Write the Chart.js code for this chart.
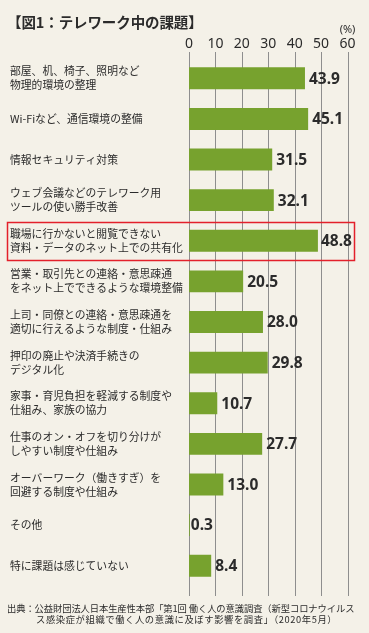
<!DOCTYPE html>
<html>
<head>
<meta charset="utf-8">
<script src="https://cdn.jsdelivr.net/npm/chart.js@4"></script>
<style>
  html, body { margin: 0; padding: 0; background: #f4f1e8; }
  #wrap { position: relative; width: 369px; height: 633px; }
  #chart { position: absolute; left: 0; top: 0; }
  .title {
    position: absolute; left: 7px; top: 11px;
    font: bold 14.5px "Noto Sans CJK JP", sans-serif; color: #2b2b2b; letter-spacing: -0.1px;
  }
  .source {
    position: absolute; left: 7px; top: 603px; width: 362px;
    font: 9.3px/11px "Noto Sans CJK JP", sans-serif; color: #2b2b2b;
    letter-spacing: -0.1px; white-space: nowrap;
  }
  .source span { padding-left: 29px; letter-spacing: 0.6px; }
</style>
</head>
<body>
<div id="wrap">
  <canvas id="chart" width="369" height="633"></canvas>
  <div class="title">【図1：テレワーク中の課題】</div>
  <div class="source">出典：公益財団法人日本生産性本部「第1回 働く人の意識調査（新型コロナウイルス<br><span>ス感染症が組織で働く人の意識に及ぼす影響を調査」（2020年5月）</span></div>
</div>
<script>
// categories (split into lines as printed)
let categories = [
    ['部屋、机、椅子、照明など', '物理的環境の整理'],
    'Wi-Fiなど、通信環境の整備',
    '情報セキュリティ対策',
    ['ウェブ会議などのテレワーク用', 'ツールの使い勝手改善'],
    ['職場に行かないと閲覧できない', '資料・データのネット上での共有化'],
    ['営業・取引先との連絡・意思疎通', 'をネット上でできるような環境整備'],
    ['上司・同僚との連絡・意思疎通を', '適切に行えるような制度・仕組み'],
    ['押印の廃止や決済手続きの', 'デジタル化'],
    ['家事・育児負担を軽減する制度や', '仕組み、家族の協力'],
    ['仕事のオン・オフを切り分けが', 'しやすい制度や仕組み'],
    ['オーバーワーク（働きすぎ）を', '回避する制度や仕組み'],
    'その他',
    '特に課題は感じていない'
];
let values = [43.9, 45.1, 31.5, 32.1, 48.8, 20.5, 28.0, 29.8, 10.7, 27.7, 13.0, 0.3, 8.4];
let xTicks = [0, 10, 20, 30, 40, 50, 60];
let highlightIndex = 4;

const barColor = '#77a22e';
const textColor = '#2b2b2b';

// vertical grid lines, drawn a bit taller than the plot area
const gridPlugin = {
    id: 'gridLines',
    beforeDatasetsDraw(chart) {
        const ctx = chart.ctx;
        const x = chart.scales.x;
        ctx.save();
        ctx.strokeStyle = '#8e8e8e';
        ctx.lineWidth = 1;
        xTicks.forEach(v => {
            const px = Math.round(x.getPixelForValue(v)) + 0.5;
            ctx.beginPath();
            ctx.moveTo(px, chart.chartArea.top - 6);
            ctx.lineTo(px, chart.chartArea.bottom + 10);
            ctx.stroke();
        });
        // (%) over the last tick
        ctx.fillStyle = textColor;
        ctx.font = '11px "Noto Sans", sans-serif';
        ctx.textAlign = 'center';
        ctx.textBaseline = 'middle';
        ctx.fillText('(%)', x.getPixelForValue(60), 30);
        ctx.restore();
    }
};

// value labels + red box
const labelPlugin = {
    id: 'valueLabels',
    afterDatasetsDraw(chart) {
        const ctx = chart.ctx;
        const meta = chart.getDatasetMeta(0);
        ctx.save();
        ctx.fillStyle = textColor;
        ctx.font = 'bold 15.5px "Noto Sans", sans-serif';
        ctx.textAlign = 'left';
        ctx.textBaseline = 'middle';
        meta.data.forEach((bar, i) => {
            let gap = values[i] < 1 ? 1 : (i === highlightIndex ? 3 : 4);
            ctx.fillText(values[i].toFixed(1), bar.x + gap, bar.y + 1);
        });

        const y = chart.scales.y.getPixelForValue(highlightIndex);
        ctx.strokeStyle = '#e3202b';
        ctx.lineWidth = 1.5;
        ctx.strokeRect(7.5, Math.round(y - 19) + 0.5, 347, 38);
        ctx.restore();
    }
};

new Chart(document.getElementById('chart'), {
    type: 'bar',
    data: {
        labels: categories,
        datasets: [{
            data: values,
            backgroundColor: barColor,
            borderWidth: 0,
            categoryPercentage: 1,
            barPercentage: 0.54
        }]
    },
    options: {
        indexAxis: 'y',
        responsive: false,
        animation: false,
        layout: { padding: { top: 0, left: 10, right: 21.5, bottom: 47 } },
        plugins: { legend: { display: false }, tooltip: { enabled: false } },
        scales: {
            x: {
                position: 'top',
                min: 0,
                max: 60,
                afterFit(scale) { scale.height = 58; },
                grid: { display: false, drawTicks: false },
                border: { display: false },
                ticks: {
                    stepSize: 10,
                    padding: 6,
                    color: textColor,
                    font: { family: '"Noto Sans", sans-serif', size: 14 }
                }
            },
            y: {
                afterFit(scale) { scale.width = 179; },
                grid: { display: false },
                border: { display: false },
                ticks: {
                    crossAlign: 'far',
                    color: textColor,
                    font: { family: '"Noto Sans CJK JP", sans-serif', size: 10.8, lineHeight: '14px' }
                }
            }
        }
    },
    plugins: [gridPlugin, labelPlugin]
});
</script>
</body>
</html>
